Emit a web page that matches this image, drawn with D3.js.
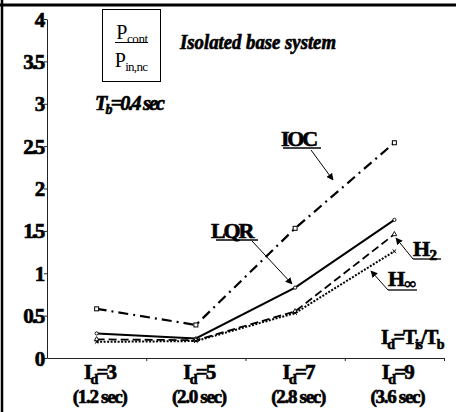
<!DOCTYPE html>
<html>
<head>
<meta charset="utf-8">
<script src="https://cdn.jsdelivr.net/npm/d3@7"></script>
<style>
  html, body { margin: 0; padding: 0; background: #fff; }
  svg { display: block; }
  text { font-family: "Liberation Serif", "Times New Roman", Times, serif; fill: #000; }
  text.heavy { stroke: #000; stroke-width: 0.65px; }
</style>
</head>
<body>
<svg id="chart" width="456" height="412"></svg>
<script>
// Isolation ratio categories and their isolation periods
const categories = ["3", "5", "7", "9"];
const periods = ["(1.2 sec)", "(2.0 sec)", "(2.8 sec)", "(3.6 sec)"];

// Normalised peak control force P_cont / P_in,nc for each controller
const iocValues  = [0.58, 0.39, 1.53, 2.54];
const lqrValues  = [0.29, 0.23, 0.83, 1.63];
const h2Values   = [0.22, 0.21, 0.55, 1.46];
const hinfValues = [0.19, 0.20, 0.53, 1.26];

const yTicks = [0, 0.5, 1, 1.5, 2, 2.5, 3, 3.5, 4];

const svg = d3.select("#chart");

// Outer frame lines
svg.append("line").attr("x1", 0).attr("x2", 456).attr("y1", 5).attr("y2", 5)
  .attr("stroke", "#000").attr("stroke-width", 3);
svg.append("line").attr("x1", 2).attr("x2", 2).attr("y1", 0).attr("y2", 412)
  .attr("stroke", "#000").attr("stroke-width", 2.5);

const plotLeft = 47, plotRight = 444, plotTop = 19, plotBottom = 358;

const x = d3.scaleBand().domain(categories).range([plotLeft, plotRight]);
const xEdge = d3.scaleLinear().domain([0, categories.length]).range([plotLeft, plotRight]);
const y = d3.scaleLinear().domain([0, 4]).range([plotBottom, plotTop]);

// Y axis: line and ticks from d3, labels set in the serif face below
const yAxis = svg.append("g").attr("transform", `translate(${plotLeft},0)`)
  .call(d3.axisLeft(y).tickValues(yTicks).tickSize(3).tickSizeOuter(0).tickFormat(""));
yAxis.select(".domain").attr("stroke", "#222");
yAxis.selectAll(".tick line").attr("stroke", "#222");

svg.append("g").selectAll("text").data(yTicks).join("text")
  .attr("class", "heavy")
  .attr("x", plotLeft - 4).attr("y", d => y(d)).attr("dy", "0.36em")
  .attr("text-anchor", "end")
  .style("font-size", "21px").style("font-weight", "bold").style("letter-spacing", "-2.2px")
  .text(d => d3.format("")(d));

// X axis (ticks at category boundaries)
const xAxis = svg.append("g").attr("transform", `translate(0,${plotBottom})`)
  .call(d3.axisBottom(xEdge).tickValues([1, 2, 3, 4]).tickSize(3).tickSizeOuter(0).tickFormat(""));
xAxis.select(".domain").attr("stroke", "#222");
xAxis.selectAll(".tick line").attr("stroke", "#222");

// Text with optional subscripts
function richText(parent, px, py, parts, opts) {
  const t = parent.append("text").attr("x", px).attr("y", py)
    .classed("heavy", !!opts.heavy)
    .style("font-size", opts.size + "px").style("font-weight", opts.weight || "normal")
    .style("font-style", opts.style || "normal")
    .style("letter-spacing", (opts.ls || 0) + "px")
    .attr("text-anchor", opts.anchor || "start");
  let shifted = 0;
  const drop = opts.drop || 5;
  parts.forEach(p => {
    const ts = t.append("tspan").text(p.t);
    if (p.sub) {
      ts.style("font-size", (opts.subSize || opts.size * 0.62) + "px").attr("dy", drop - shifted);
      shifted = drop;
    } else {
      ts.attr("dy", -shifted);
      shifted = 0;
    }
  });
  return t;
}

// Category labels
categories.forEach((c, i) => {
  const cx = x(c) + x.bandwidth() / 2 + 3;
  richText(svg, cx, 379, [{ t: "I" }, { t: "d", sub: true }, { t: "=" + c }],
    { size: 21, weight: "bold", anchor: "middle", ls: -1.8, subSize: 14, heavy: true });
  richText(svg, cx, 403, [{ t: periods[i] }],
    { size: 19, weight: "bold", anchor: "middle", ls: -1.3, heavy: true });
});

// Series lines
const lineGen = vals => d3.line()
  .x((d, i) => x(categories[i]) + x.bandwidth() / 2)
  .y(d => y(d))(vals);

const series = [
  { vals: iocValues,  dash: "10,5,2,5", width: 2.2, marker: "square" },
  { vals: lqrValues,  dash: null,       width: 2,   marker: "circle" },
  { vals: h2Values,   dash: "8,4",      width: 1.8, marker: "triangle" },
  { vals: hinfValues, dash: "2,1.5",    width: 2,   marker: "cross" }
];

series.forEach(s => {
  svg.append("path").attr("d", lineGen(s.vals)).attr("fill", "none")
    .attr("stroke", "#000").attr("stroke-width", s.width)
    .attr("stroke-dasharray", s.dash);
  const g = svg.append("g");
  s.vals.forEach((v, i) => {
    const px = x(categories[i]) + x.bandwidth() / 2, py = y(v);
    if (s.marker === "square") {
      g.append("rect").attr("x", px - 2).attr("y", py - 2).attr("width", 4).attr("height", 4)
        .attr("fill", "#fff").attr("stroke", "#000").attr("stroke-width", 1);
    } else if (s.marker === "circle") {
      g.append("circle").attr("cx", px).attr("cy", py).attr("r", 1.6)
        .attr("fill", "#fff").attr("stroke", "#000").attr("stroke-width", 0.9);
    } else if (s.marker === "triangle") {
      g.append("path").attr("d", d3.symbol(d3.symbolTriangle, 10)())
        .attr("transform", `translate(${px},${py})`)
        .attr("fill", "#fff").attr("stroke", "#000").attr("stroke-width", 0.9);
    } else {
      g.append("path").attr("d", `M${px - 1.8},${py - 1.8}L${px + 1.8},${py + 1.8}M${px - 1.8},${py + 1.8}L${px + 1.8},${py - 1.8}`)
        .attr("stroke", "#000").attr("stroke-width", 1);
    }
  });
});

// Arrowhead
svg.append("defs").append("marker").attr("id", "arrow")
  .attr("viewBox", "0 0 10 10").attr("refX", 9).attr("refY", 5)
  .attr("markerWidth", 7).attr("markerHeight", 7).attr("markerUnits", "userSpaceOnUse")
  .attr("orient", "auto")
  .append("path").attr("d", "M0,0L10,5L0,10z").attr("fill", "#000");

function arrow(x1, y1, x2, y2) {
  svg.append("line").attr("x1", x1).attr("y1", y1).attr("x2", x2).attr("y2", y2)
    .attr("stroke", "#000").attr("stroke-width", 1).attr("marker-end", "url(#arrow)");
}
function underline(x1, x2, yy) {
  svg.append("line").attr("x1", x1).attr("x2", x2).attr("y1", yy).attr("y2", yy)
    .attr("stroke", "#000").attr("stroke-width", 1.3);
}

// Series labels
richText(svg, 281, 146, [{ t: "IOC" }], { size: 22, weight: "bold", ls: -2.2, heavy: true });
underline(283, 321, 148);
arrow(311, 150, 333, 180);

richText(svg, 211, 238, [{ t: "LQR" }], { size: 22, weight: "bold", ls: -2.2, heavy: true });
underline(216, 258, 240);
arrow(252, 241, 292, 284);

richText(svg, 413, 256, [{ t: "H" }, { t: "2", sub: true }], { size: 22, weight: "bold", ls: -0.6, subSize: 15, heavy: true, drop: 4 });
underline(413, 441, 259);
arrow(413, 259, 396, 238);

richText(svg, 388, 286, [{ t: "H" }, { t: "∞", sub: true }], { size: 22, weight: "bold", ls: -0.6, subSize: 16, heavy: true, drop: 3 });
underline(388, 417, 290);
arrow(388, 290, 371, 271);

// Ratio definition
richText(svg, 381, 344, [{ t: "I" }, { t: "d", sub: true }, { t: "=T" }, { t: "is", sub: true }, { t: "/T" }, { t: "b", sub: true }],
  { size: 20, weight: "bold", ls: -1.6, subSize: 14, heavy: true });

// Quantity box
svg.append("rect").attr("x", 102.5).attr("y", 9.5).attr("width", 58).attr("height", 72)
  .attr("fill", "none").attr("stroke", "#000").attr("stroke-width", 1);
richText(svg, 132, 39, [{ t: "P" }, { t: "cont", sub: true }], { size: 20, anchor: "middle", subSize: 13, ls: -0.4, drop: 4 });
svg.append("line").attr("x1", 115).attr("x2", 148).attr("y1", 42.5).attr("y2", 42.5)
  .attr("stroke", "#000").attr("stroke-width", 1.2);
richText(svg, 131, 67, [{ t: "P" }, { t: "in,nc", sub: true }], { size: 20, anchor: "middle", subSize: 13, ls: -0.7, drop: 4 });

// Titles
svg.append("text").attr("x", 180).attr("y", 49)
  .classed("heavy", true)
  .style("font-size", "20px").style("font-weight", "bold").style("font-style", "italic")
  .attr("textLength", 156).attr("lengthAdjust", "spacingAndGlyphs")
  .text("Isolated base system");

richText(svg, 95, 110, [{ t: "T" }, { t: "b", sub: true }, { t: "=0.4 sec" }],
  { size: 20, weight: "bold", style: "italic", ls: -1.8, subSize: 14, heavy: true, drop: 4 });
</script>
</body>
</html>
